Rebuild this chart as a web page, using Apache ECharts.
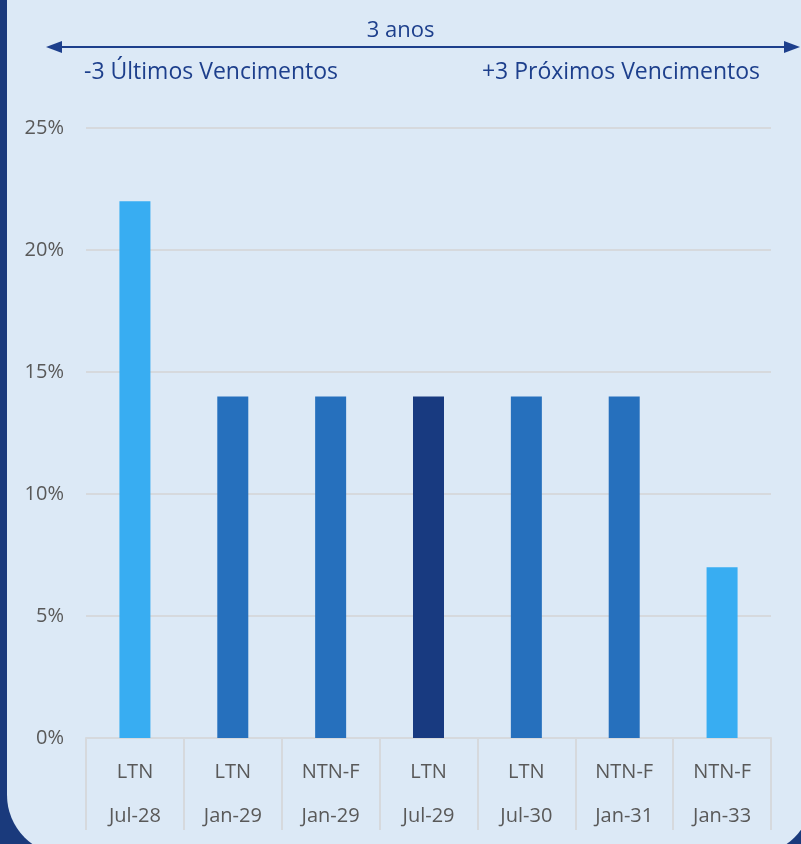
<!DOCTYPE html>
<html>
<head>
<meta charset="utf-8">
<script src="https://cdn.jsdelivr.net/npm/echarts@6/dist/echarts.min.js"></script>
<style>
  html, body { margin: 0; padding: 0; background: #1a3a7c; }
  #main { width: 801px; height: 844px; }
</style>
</head>
<body>
<div id="main"></div>
<script type="text/javascript">
    // dados do gráfico
    var titulos = ['LTN', 'LTN', 'NTN-F', 'LTN', 'LTN', 'NTN-F', 'NTN-F'];
    var vencimentos = ['Jul-28', 'Jan-29', 'Jan-29', 'Jul-29', 'Jul-30', 'Jan-31', 'Jan-33'];
    var pesos = [22, 14, 14, 14, 14, 14, 7];
    var yTicks = [0, 5, 10, 15, 20, 25];

    // cor de cada barra (estilo)
    var cores = ['#38adf2', '#2670bd', '#2670bd', '#183a80', '#2670bd', '#2670bd', '#38adf2'];

    var categorias = titulos.map(function (t, i) { return t + '\n' + vencimentos[i]; });
    var fonte = '"Open Sans", "Noto Sans", sans-serif';
    var azul = '#1d3f8c';

    var myChart = echarts.init(document.getElementById('main'));
    var option = {
        backgroundColor: '#1a3a7c',
        textStyle: { fontFamily: fonte },
        graphic: [
            {
                type: 'rect', z: -10,
                shape: { x: 7, y: -60, width: 805, height: 915, r: 60 },
                style: { fill: '#dce9f6' }
            },
            {
                type: 'line', z: 10,
                shape: { x1: 58, y1: 47, x2: 788, y2: 47 },
                style: { stroke: azul, lineWidth: 2 }
            },
            {
                type: 'polygon', z: 10,
                shape: { points: [[46, 47], [62, 41], [62, 53]] },
                style: { fill: azul }
            },
            {
                type: 'polygon', z: 10,
                shape: { points: [[800, 47], [784, 41], [784, 53]] },
                style: { fill: azul }
            },
            {
                type: 'text', z: 10, left: 'center', top: 20,
                style: { text: '3 anos', fill: azul, font: '22px ' + fonte, textAlign: 'center' }
            },
            {
                type: 'text', z: 10, left: 84, top: 61,
                style: { text: '-3 Últimos Vencimentos', fill: azul, font: '23px ' + fonte }
            },
            {
                type: 'text', z: 10, right: 41, top: 61,
                style: { text: '+3 Próximos Vencimentos', fill: azul, font: '23px ' + fonte }
            }
        ],
        grid: { left: 86, right: 30, top: 128, bottom: 106, containLabel: false },
        xAxis: {
            type: 'category',
            data: categorias,
            boundaryGap: true,
            axisLine: { lineStyle: { color: '#d6d9dd', width: 2 } },
            axisTick: { show: true, interval: 0, length: 92, lineStyle: { color: '#d6d9dd', width: 2 } },
            axisLabel: {
                interval: 0, margin: 12, color: '#595959', fontSize: 20,
                lineHeight: 44, fontFamily: fonte
            }
        },
        yAxis: {
            type: 'value',
            min: yTicks[0],
            max: yTicks[yTicks.length - 1],
            interval: 5,
            axisLine: { show: false },
            axisTick: { show: false },
            axisLabel: {
                margin: 22, color: '#595959', fontSize: 20, fontFamily: fonte,
                formatter: '{value}%'
            },
            splitLine: { lineStyle: { color: '#d6d9dd', width: 2 } }
        },
        series: [{
            type: 'bar',
            barWidth: 31,
            data: pesos.map(function (v, i) {
                return { value: v, itemStyle: { color: cores[i] } };
            })
        }]
    };
    myChart.setOption(option);
</script>
</body>
</html>
